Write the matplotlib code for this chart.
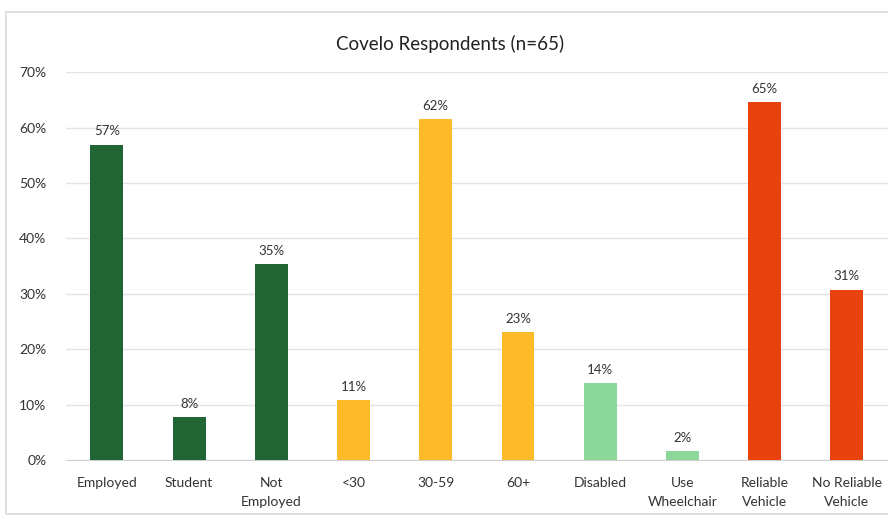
import matplotlib.pyplot as plt
from matplotlib.patches import Rectangle
from matplotlib.ticker import FuncFormatter

categories = ['Employed', 'Student', 'Not\nEmployed', '<30', '30-59', '60+',
              'Disabled', 'Use\nWheelchair', 'Reliable\nVehicle', 'No Reliable\nVehicle']
counts = [37, 5, 23, 7, 40, 15, 9, 1, 42, 20]
n_total = 65
shares = [c / n_total * 100 for c in counts]
colors = ['#216535', '#216535', '#216535', '#FDBB2A', '#FDBB2A', '#FDBB2A',
          '#8CD89A', '#8CD89A', '#E8430F', '#E8430F']

plt.rcParams['font.family'] = ['Lato', 'DejaVu Sans']

fig = plt.figure(figsize=(8.88, 5.16), dpi=100)
ax = fig.add_axes((0.074, 0.1085, 0.926, 0.7515))

# chart frame
fig.patches.append(Rectangle((6 / 888, 2 / 516), 0.995, 1 - 14 / 516,
                             transform=fig.transFigure, fill=False,
                             edgecolor='#d9d9d9', linewidth=1.2))

x = range(len(categories))
bars = ax.bar(x, shares, width=0.4, color=colors, zorder=3)
for b, v in zip(bars, shares):
    ax.text(b.get_x() + b.get_width() / 2, v + 1.3, f'{v:.0f}%',
            ha='center', va='bottom', fontsize=9.5, color='#333333')

ax.set_xlim(-0.5, len(categories) - 0.5)
ax.set_ylim(0, 70)
ax.set_yticks(range(0, 71, 10))
ax.yaxis.set_major_formatter(FuncFormatter(lambda v, p: f'{v:.0f}%'))
ax.set_xticks(list(x))
ax.set_xticklabels(categories, fontsize=10, color='#333333', linespacing=1.75)
ax.tick_params(axis='y', labelsize=10, labelcolor='#333333', length=0, pad=14)
ax.tick_params(axis='x', length=0, pad=12)
ax.grid(axis='y', color='#e3e3e3', linewidth=1, zorder=0)
for s in ['top', 'right', 'left']:
    ax.spines[s].set_visible(False)
ax.spines['bottom'].set_color('#d0d0d0')

fig.text(0.507, 1 - 44 / 516, 'Covelo Respondents (n=65)', ha='center',
         va='center', fontsize=13.5, color='#222222')

fig.savefig('out.png', dpi=100)
